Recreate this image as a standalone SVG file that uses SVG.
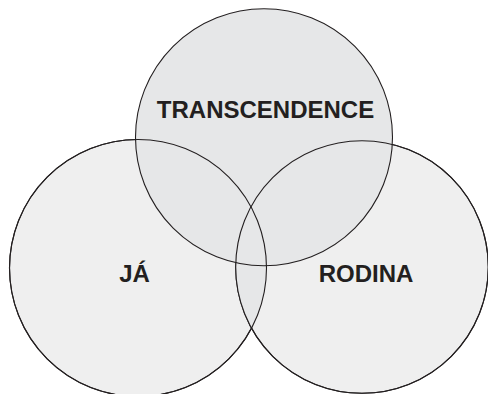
<svg xmlns="http://www.w3.org/2000/svg" width="488" height="394" viewBox="0 0 488 394">
<defs>
<style>
.c{stroke:#231f20;stroke-width:1.1}
.t{font-family:"Liberation Sans",Arial,sans-serif;font-weight:bold;font-size:24px;fill:#231f20;text-anchor:middle}
</style>
<clipPath id="clipL"><circle cx="138" cy="268" r="128.5"/></clipPath>
</defs>
<rect width="488" height="394" fill="#ffffff"/>
<g id="ja">
<circle class="c" cx="138" cy="268" r="128.5" fill="#efefef"/>
</g>
<g id="rodina">
<circle class="c" cx="362" cy="267" r="126.3" fill="#efefef"/>
</g>
<g id="overlap">
<circle cx="362" cy="267" r="126.3" fill="#e6e7e8" clip-path="url(#clipL)"/>
</g>
<g id="transcendence">
<circle class="c" cx="264" cy="137.2" r="128.5" fill="#e6e7e8"/>
</g>
<g id="outlines" fill="none">
<circle class="c" cx="138" cy="268" r="128.5"/>
<circle class="c" cx="362" cy="267" r="126.3"/>
</g>
<g id="labels">
<text class="t" x="265.5" y="118">TRANSCENDENCE</text>
<text class="t" x="134.5" y="282">JÁ</text>
<text class="t" x="366" y="282">RODINA</text>
</g>
</svg>
